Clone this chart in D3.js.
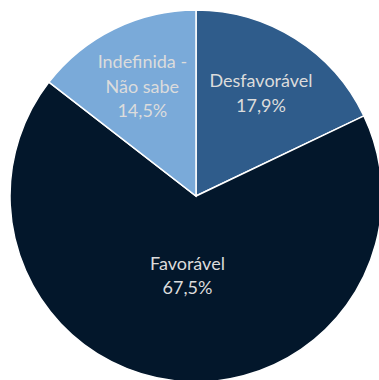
<!DOCTYPE html>
<html>
<head>
<meta charset="utf-8">
<script src="https://cdn.jsdelivr.net/npm/d3@7"></script>
<style>
  body { margin: 0; background: #fff; }
</style>
</head>
<body>
<div id="chart"></div>
<script>
// Chart data
const categories = ["Desfavorável", "Favorável", "Indefinida - Não sabe"];
const labelLines = [["Desfavorável"], ["Favorável"], ["Indefinida -", "Não sabe"]];
const values = [17.9, 67.5, 14.5];
const colors = ["#2f5c8b", "#03172b", "#7aaad9"];

const width = 379;
const height = 380;
const radius = 186;
const cx = 196, cy = 196;

const svg = d3.select("#chart")
    .append("svg")
    .attr("width", width)
    .attr("height", height)
    .append("g")
    .attr("transform", "translate(" + cx + "," + cy + ")");

const pie = d3.pie()
    .sort(null)
    .value(d => d);

const arc = d3.arc()
    .innerRadius(0)
    .outerRadius(radius);

const arcs = pie(values);

svg.selectAll(".slice")
    .data(arcs)
    .enter().append("path")
    .attr("class", "slice")
    .attr("d", arc)
    .attr("fill", (d, i) => colors[i])
    .attr("stroke", "white")
    .attr("stroke-width", 1.5);

// Labels: big slice closer to center, small slices further out
function labelPos(d) {
    const frac = (d.endAngle - d.startAngle) > Math.PI ? 0.43 : 0.655;
    const r = radius * frac;
    return d3.arc().innerRadius(r).outerRadius(r).centroid(d);
}

const lineH = 24.5;
const labels = svg.selectAll(".label")
    .data(arcs)
    .enter().append("text")
    .attr("class", "label")
    .attr("text-anchor", "middle")
    .style("font-family", "Lato, 'Open Sans', sans-serif")
    .style("font-size", "18px")
    .style("fill", "#dcdcdc")
    .attr("transform", d => "translate(" + labelPos(d) + ")");

labels.each(function(d, i) {
    const lines = labelLines[i].concat([d3.format(".1f")(values[i]).replace(".", ",") + "%"]);
    const t = d3.select(this);
    const y0 = -(lines.length - 1) * lineH / 2;
    lines.forEach((l, j) => {
        t.append("tspan")
            .attr("x", 0)
            .attr("y", y0 + j * lineH)
            .attr("dy", "0.35em")
            .text(l);
    });
});
</script>
</body>
</html>
